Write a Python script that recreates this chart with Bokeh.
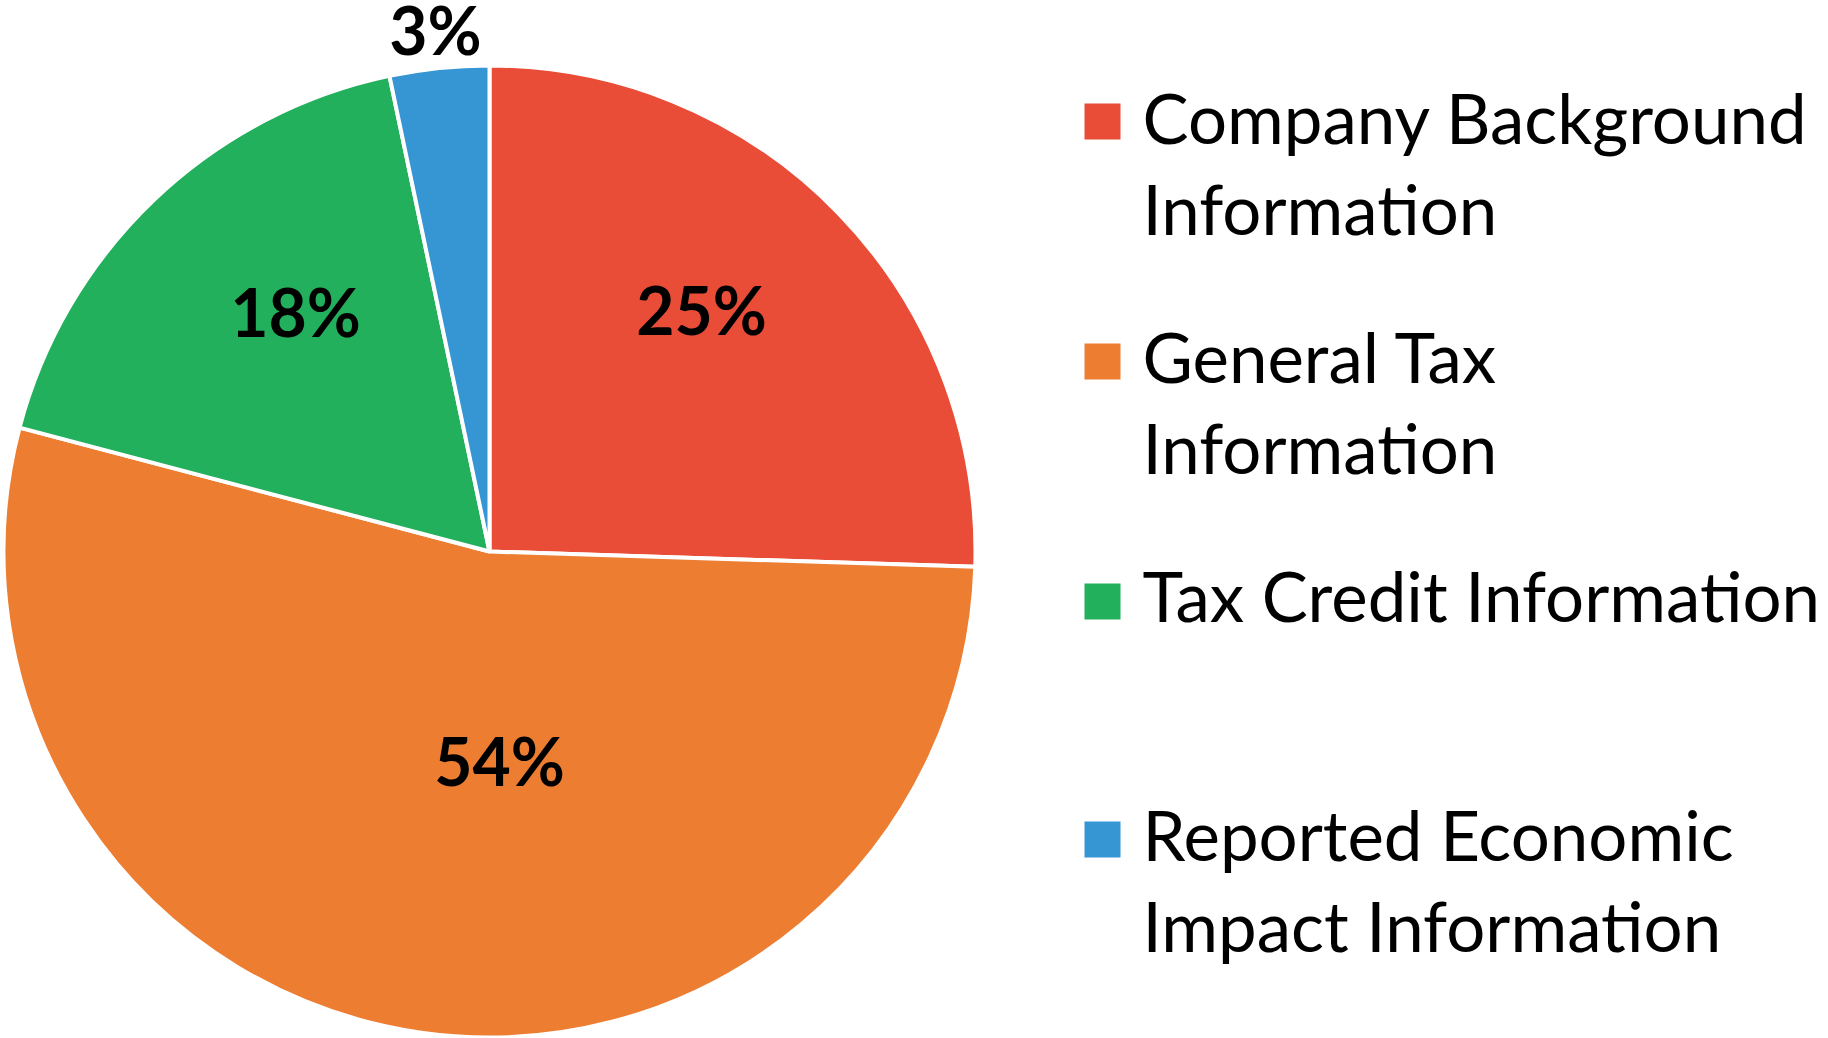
import math
from bokeh.plotting import figure
from bokeh.models import Range1d, ColumnDataSource
from bokeh.core.properties import value
from bokeh.embed import file_html
from bokeh.resources import INLINE

# ---- data ----
categories = ["Company Background\nInformation", "General Tax\nInformation",
              "Tax Credit Information", "Reported Economic\nImpact Information"]
shares = [25.5, 53.6, 17.6, 3.3]
share_labels = ["25%", "54%", "18%", "3%"]
colors = ["#E94D37", "#ED7D31", "#23B05D", "#3596D3"]

# ---- layout (screen pixels, y measured from top) ----
W, H = 1828, 1038
cx, cy, R = 489, 551, 486
base_shift = -29  # renderer baseline correction
label_pos = [(701, 338), (499, 789), (295, 340), (435, 58)]
leg_x_sq, leg_x_txt = 1102, 1142
leg_sq_y = [121, 361, 601, 839]
leg_base = [146, 385, 624, 863]
line_gap = 91

p = figure(width=W, height=H, output_backend="svg", toolbar_location=None,
           x_range=Range1d(0, W), y_range=Range1d(H, 0), min_border=0)
p.axis.visible = False
p.grid.visible = False
p.outline_line_color = None

total = sum(shares)
starts, ends = [], []
acc = 0.0
for s in shares:
    starts.append(math.pi / 2 - 2 * math.pi * acc / total)
    acc += s
    ends.append(math.pi / 2 - 2 * math.pi * acc / total)

src = ColumnDataSource(dict(start=starts, end=ends, color=colors))
p.wedge(x=cx, y=cy, radius=R, start_angle="start", end_angle="end",
        direction="clock", fill_color="color", line_color="white",
        line_width=4, source=src)

p.text(x=[q[0] for q in label_pos], y=[q[1] + base_shift for q in label_pos],
       text=share_labels, text_font=value("Lato"), text_font_style="bold",
       text_font_size="66px", text_align="center", text_baseline="alphabetic",
       text_color="black")

p.scatter(x=[leg_x_sq] * 4, y=leg_sq_y, marker="square", size=36,
          fill_color=colors, line_color=None)

tx, ty, tt = [], [], []
for cat, y0 in zip(categories, leg_base):
    for i, line in enumerate(cat.split("\n")):
        tx.append(leg_x_txt)
        ty.append(y0 + i * line_gap + base_shift)
        tt.append(line)
p.text(x=tx, y=ty, text=tt, text_font=value("Lato"), text_font_size="69px",
       text_align="left", text_baseline="alphabetic", text_color="black")

open("out.html", "w").write(file_html(p, INLINE))
